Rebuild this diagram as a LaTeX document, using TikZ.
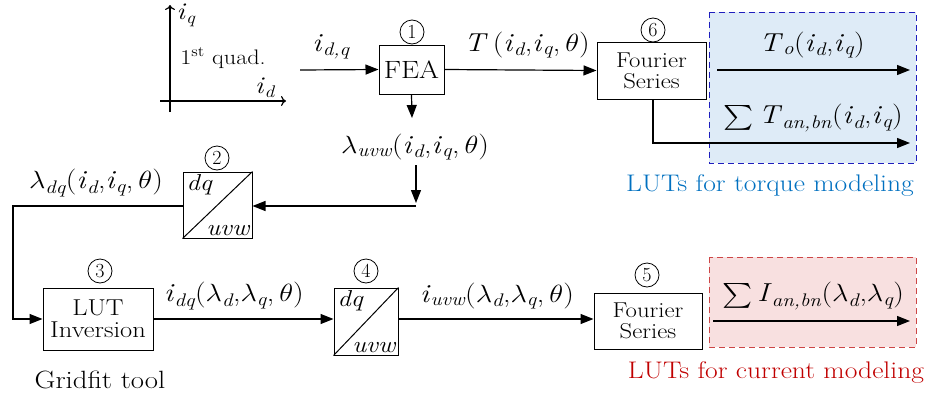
\documentclass[tikz,border=0pt]{standalone}
\usepackage{amsmath}
\usepackage{graphicx}
\usepackage{fontspec}
\usetikzlibrary{arrows.meta}
\newcommand{\vi}[1]{\textit{#1}}
\newcommand{\sbx}[1]{\textsubscript{\itshape #1}}
\newcommand{\thx}{$\theta$}
\newcommand{\lmx}{$\lambda$}
\newcommand{\W}[1]{\scalebox{1.15}[1]{#1}}
\definecolor{lutblue}{RGB}{0,112,192}
\definecolor{lutred}{RGB}{192,0,0}
\definecolor{boxblue}{RGB}{30,30,190}
\definecolor{fillblue}{RGB}{222,235,247}
\definecolor{boxred}{RGB}{205,70,70}
\definecolor{fillred}{RGB}{248,224,224}
\tikzset{
  every node/.style={inner sep=0pt, font=\fontsize{26}{28}\selectfont},
  blk/.style={draw, line width=1pt, fill=white, align=center, font=\fontsize{21.5}{22}\selectfont},
  num/.style={draw, circle, line width=0.8pt, minimum size=24pt, inner sep=0pt, font=\fontsize{20}{20}\selectfont},
  conn/.style={line width=1.2pt, -{Triangle[length=13pt,width=10pt]}},
  axis/.style={line width=1.2pt, -{To[length=5pt,width=10pt]}},
  trl/.style={font=\fontsize{23}{23}\selectfont\itshape},
  lut/.style={font=\fontsize{24}{25}\selectfont},
}
\begin{document}
\begin{tikzpicture}[x=1pt,y=-1pt]
\useasboundingbox (0,0) rectangle (925,394);
% shaded regions
\path[fill=fillblue, draw=boxblue, line width=1pt, dash pattern=on 6pt off 4pt] (709,12) rectangle (916,163);
\path[fill=fillred, draw=boxred, line width=1pt, dash pattern=on 6pt off 4pt] (709,257) rectangle (916,347);
% axes
\coordinate (ax0) at (170,112);
\coordinate (ax1) at (170,5);
\coordinate (ay0) at (160,101);
\coordinate (ay1) at (286,101);
\draw[axis] (ax0) -- (ax1);
\draw[axis] (ay0) -- (ay1);
\node[font=\fontsize{24}{24}\selectfont] (iq) at (186,15) {\W{\vi{i}\sbx{q}}};
\node[font=\fontsize{21}{21}\selectfont] (quad) at (223,58) {\W{1\textsuperscript{st} quad.}};
\node[font=\fontsize{24}{24}\selectfont] (id) at (265,88) {\W{\vi{i}\sbx{d}}};
% blocks
\node[blk, minimum width=65pt, minimum height=49pt, font=\fontsize{25}{25}\selectfont] (fea) at (411.5,69.5) {\W{FEA}};
\node[num] (n1) at (412,32) {1};
\node[blk, minimum width=109pt, minimum height=57pt] (fs6) at (651.5,70.5) {\W{Fourier}\\[-1pt]\W{Series}};
\node[num] (n6) at (653,30) {6};
\node[blk, minimum width=69pt, minimum height=66pt] (tr2) at (217.5,205) {};
\draw[line width=1pt] (tr2.south west) -- (tr2.north east);
\node[trl, anchor=north west] (dq2) at ([xshift=4pt,yshift=-3pt]tr2.north west) {\W{dq}};
\node[trl, anchor=south east] (uvw2) at ([xshift=-3pt,yshift=3pt]tr2.south east) {\W{uvw}};
\node[num] (n2) at (217,158) {2};
\node[blk, minimum width=110pt, minimum height=62pt, font=\fontsize{23}{23}\selectfont] (lut3) at (98,319) {\W{LUT}\\[-1pt]\W{Inversion}};
\node[num] (n3) at (100,271) {3};
\node[font=\fontsize{25}{26}\selectfont] (grid) at (100,380) {\W{Gridfit tool}};
\node[blk, minimum width=64pt, minimum height=67pt] (tr4) at (366,321.5) {};
\draw[line width=1pt] (tr4.south west) -- (tr4.north east);
\node[trl, anchor=north west] (dq4) at ([xshift=4pt,yshift=-3pt]tr4.north west) {\W{dq}};
\node[trl, anchor=south east] (uvw4) at ([xshift=-3pt,yshift=3pt]tr4.south east) {\W{uvw}};
\node[num] (n4) at (366,271) {4};
\node[blk, minimum width=108pt, minimum height=56pt] (fs5) at (648,321) {\W{Fourier}\\[-1pt]\W{Series}};
\node[num] (n5) at (647,275) {5};
% connectors
\coordinate (in0) at (300,70);
\draw[conn] (in0) -- (fea.west);
\node (lidq) at (331,47) {\W{\vi{i}\sbx{d,q}}};
\draw[conn] (fea.east) -- (fs6.west);
\node (lT) at (527,45) {\W{\vi{T}\,(\vi{i}\sbx{d},\vi{i}\sbx{q},\,\thx)}};
\coordinate (feadn) at (412,118);
\draw[conn] (fea.south) -- (feadn);
\node (llam) at (415,147) {\W{\lmx\sbx{uvw}(\vi{i}\sbx{d},\vi{i}\sbx{q},\,\thx)}};
\coordinate (v0) at (416,165);
\coordinate (v1) at (416,203);
\draw[conn] (v0) -- (v1);
\coordinate (h0) at (416,206);
\draw[conn] (h0) -- (tr2.east |- h0);
\coordinate (c1) at (13,206);
\coordinate (c2) at (13,319);
\draw[conn] (tr2.west |- c1) -- (c1) -- (c2) -- (lut3.west);
\node (llamdq) at (96,183) {\W{\lmx\sbx{dq}(\vi{i}\sbx{d},\vi{i}\sbx{q},\,\thx)}};
\draw[conn] (lut3.east) -- (tr4.west |- lut3.east);
\node (lidq2) at (234,296) {\W{\vi{i}\sbx{dq}(\lmx\sbx{d},\lmx\sbx{q},\,\thx)}};
\draw[conn] (tr4.east |- lut3.east) -- (fs5.west |- lut3.east);
\node (liuvw) at (497,296) {\W{\vi{i}\sbx{uvw}(\lmx\sbx{d},\lmx\sbx{q},\,\thx)}};
% torque outputs
\coordinate (to0) at (717,70);
\coordinate (to1) at (910,70);
\draw[conn] (to0) -- (to1);
\node (lTo) at (812,45) {\W{\vi{T}\sbx{o}(\vi{i}\sbx{d},\vi{i}\sbx{q})}};
\coordinate (tb0) at (653,143);
\coordinate (tb1) at (910,143);
\draw[conn] (fs6.south -| tb0) -- (tb0) -- (tb1);
\node (lTab) at (813,118) {\W{$\sum$\,\vi{T}\sbx{an,bn}(\vi{i}\sbx{d},\vi{i}\sbx{q})}};
% current outputs
\coordinate (ci0) at (713,321);
\coordinate (ci1) at (910,321);
\draw[conn] (ci0) -- (ci1);
\node (lIab) at (813,296) {\W{$\sum$\,\vi{I}\sbx{an,bn}(\lmx\sbx{d},\lmx\sbx{q})}};
\node[lut, text=lutblue] (tq) at (770,186) {\W{LUTs for torque modeling}};
\node[lut, text=lutred] (cu) at (776,373) {\W{LUTs for current modeling}};
\end{tikzpicture}
\end{document}
